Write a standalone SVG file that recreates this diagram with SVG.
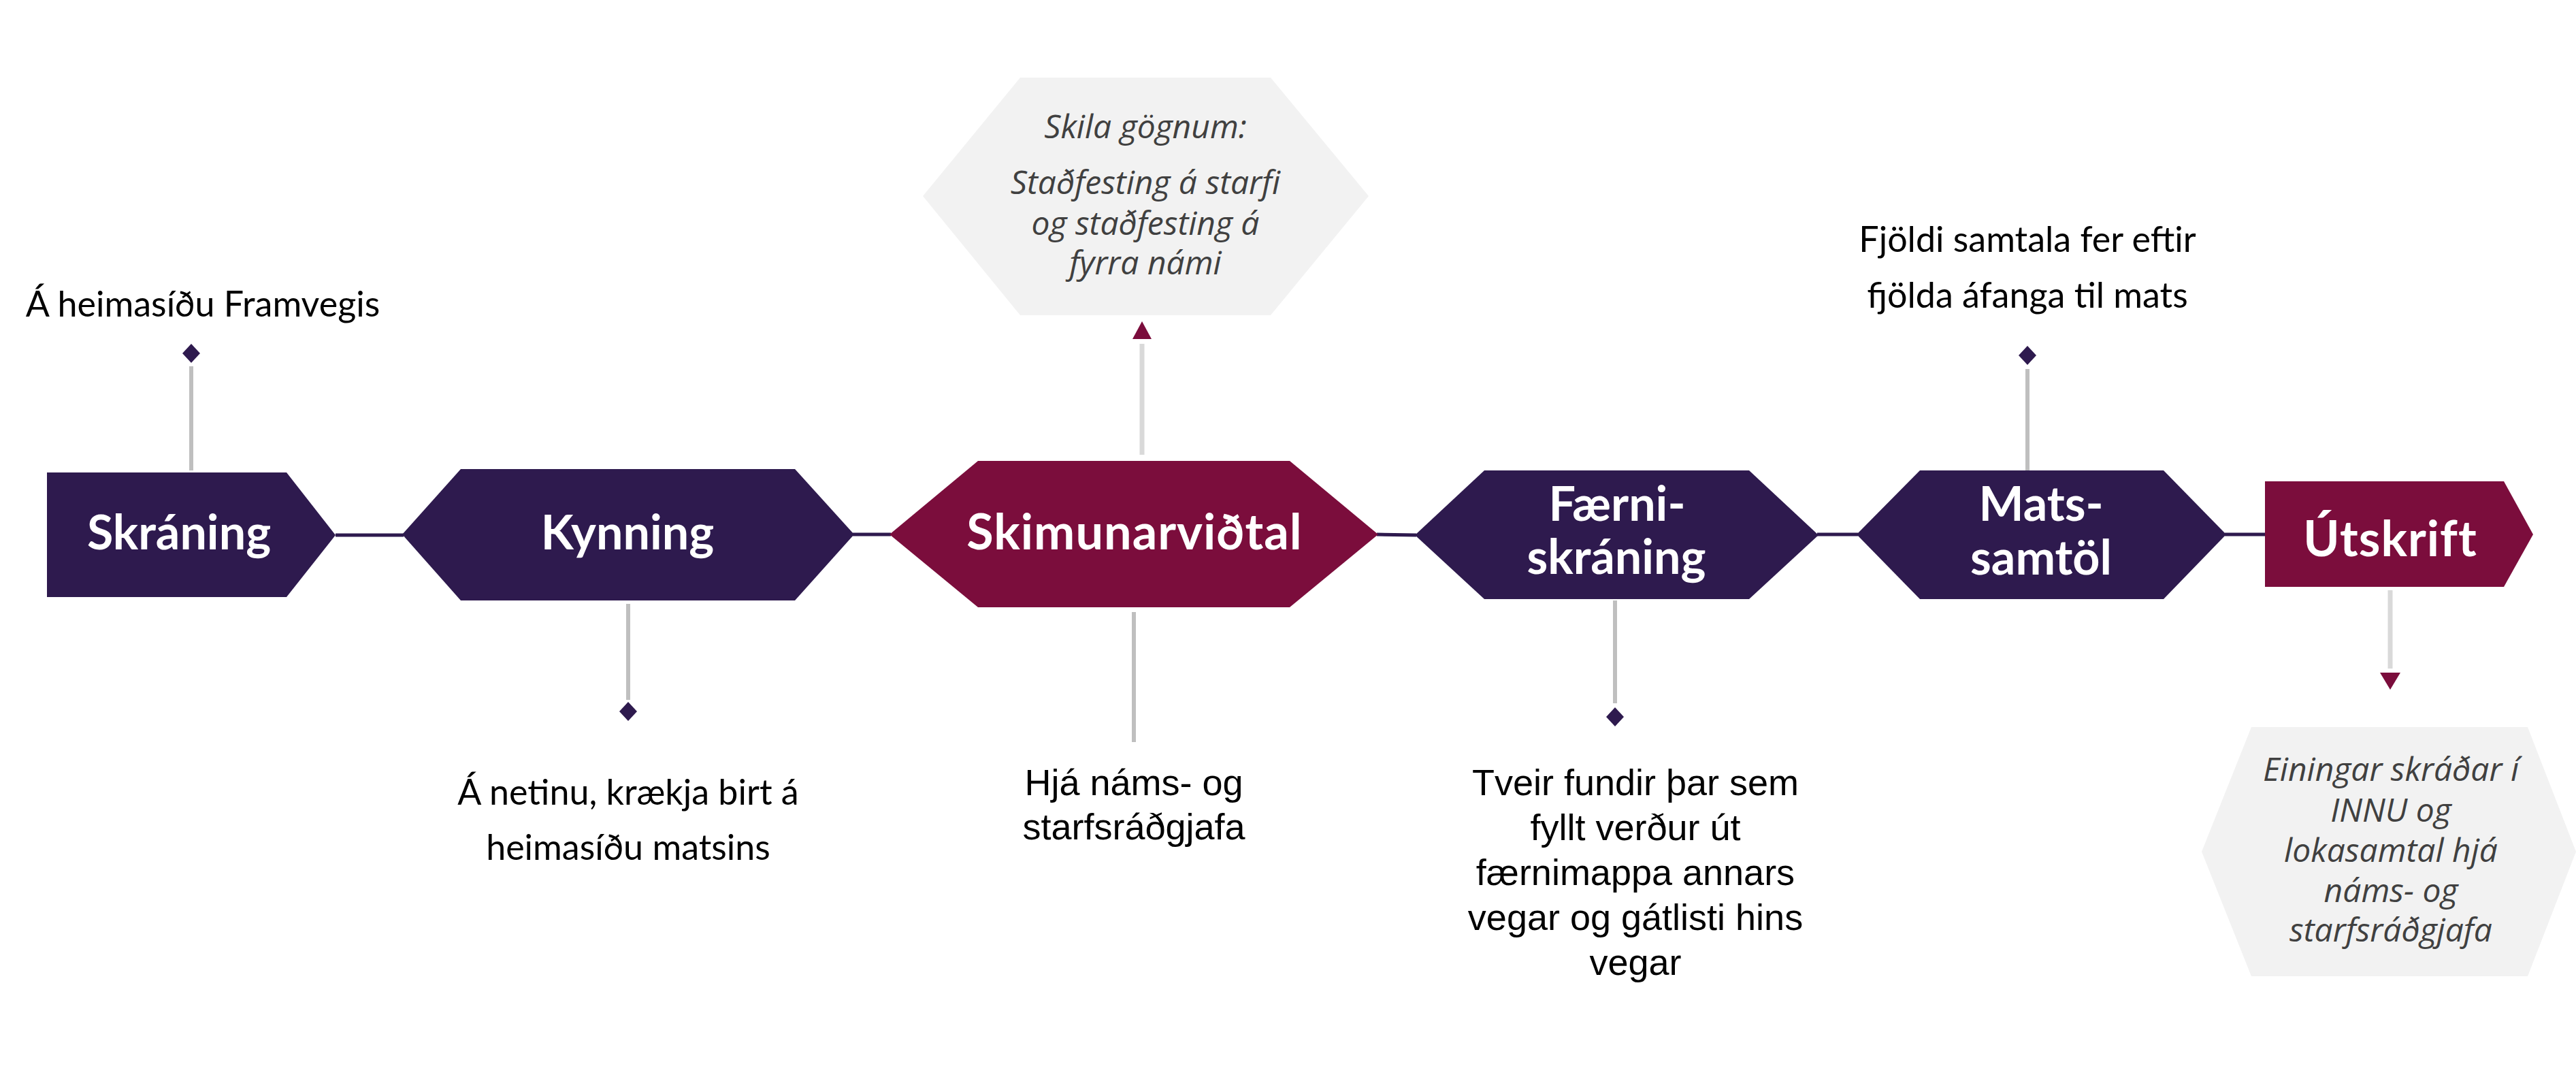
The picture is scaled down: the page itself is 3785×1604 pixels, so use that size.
<svg xmlns="http://www.w3.org/2000/svg" width="3785" height="1604" viewBox="0 0 3785 1604">
<style>
.purple{fill:#2e1a4e}
.maroon{fill:#7b0d3c}
.box{fill:#f2f2f2}
.lbl{font-family:Lato,"Liberation Sans",sans-serif;font-weight:bold;font-size:70px;fill:#ffffff;text-anchor:middle}
.lbl2{font-family:Lato,"Liberation Sans",sans-serif;font-weight:bold;font-size:72px;fill:#ffffff;text-anchor:middle;letter-spacing:1px}
.cal{font-family:Lato,"Open Sans",sans-serif;font-size:52px;fill:#000000;text-anchor:middle}
.ari{font-family:"Liberation Sans",Arial,sans-serif;font-size:54px;fill:#000000;text-anchor:middle}
.ita{font-family:"Open Sans","Noto Sans",sans-serif;font-style:italic;font-size:48px;fill:#404040;text-anchor:middle}
.flow{stroke:#2e1a4e;stroke-width:5;fill:none}
.stem{stroke:#bfbfbf;stroke-width:6;fill:none}
.stem2{stroke:#d9d9d9;stroke-width:7;fill:none}
.dia{fill:#2e1a4e}
.tri{fill:#7b0d3c}
</style>
<rect width="3785" height="1604" fill="#ffffff"/>
<g id="connectors">
<line class="flow" x1="493" y1="786" x2="593" y2="786"/>
<line class="flow" x1="1253" y1="785" x2="1309" y2="785"/>
<line class="flow" x1="2023" y1="785" x2="2081" y2="786"/>
<line class="flow" x1="2670" y1="785" x2="2730" y2="785"/>
<line class="flow" x1="3269" y1="785" x2="3330" y2="785"/>
<line class="stem" x1="281" y1="538" x2="281" y2="691"/>
<polygon class="dia" points="281,505 294,519 281,533 268,519"/>
<line class="stem" x1="923" y1="887" x2="923" y2="1028"/>
<polygon class="dia" points="923,1031 936,1045 923,1059 910,1045"/>
<line class="stem" x1="1666" y1="899" x2="1666" y2="1090"/>
<line class="stem2" x1="1678" y1="505" x2="1678" y2="668"/>
<polygon class="tri" points="1678,472 1692,498 1664,498"/>
<line class="stem" x1="2373" y1="882" x2="2373" y2="1033"/>
<polygon class="dia" points="2373,1039 2386,1053 2373,1067 2360,1053"/>
<line class="stem" x1="2979" y1="542" x2="2979" y2="691"/>
<polygon class="dia" points="2979,508 2992,522 2979,536 2966,522"/>
<line class="stem2" x1="3512" y1="867" x2="3512" y2="982"/>
<polygon class="tri" points="3497,988 3527,988 3512,1013"/>
</g>
<g id="skraning">
<polygon class="purple" points="69,694 421,694 493,786 421,877 69,877"/>
<text class="lbl" x="263" y="807">Skráning</text>
</g>
<g id="kynning">
<polygon class="purple" points="591,785 677,689 1168,689 1255,785 1168,882 677,882"/>
<text class="lbl" x="922" y="807">Kynning</text>
</g>
<g id="skimunarvidtal">
<polygon class="maroon" points="1307,785 1437,677 1895,677 2025,785 1895,892 1437,892"/>
<text class="lbl2" x="1667" y="807">Skimunarviðtal</text>
</g>
<g id="faerniskraning">
<polygon class="purple" points="2079,786 2181,691 2570,691 2672,786 2570,880 2181,880"/>
<text class="lbl" x="2376" y="765">Færni-</text>
<text class="lbl" x="2375" y="843">skráning</text>
</g>
<g id="matssamtol">
<polygon class="purple" points="2728,785 2821,691 3179,691 3271,785 3179,880 2821,880"/>
<text class="lbl" x="2999" y="765">Mats-</text>
<text class="lbl" x="2999" y="844">samtöl</text>
</g>
<g id="utskrift">
<polygon class="maroon" points="3328,707 3679,707 3722,785 3679,862 3328,862"/>
<text class="lbl2" x="3512" y="817">Útskrift</text>
</g>
<g id="note-skraning">
<text class="cal" x="298" y="465">Á heimasíðu Framvegis</text>
</g>
<g id="note-kynning">
<text class="cal" x="923" y="1182">Á netinu, krækja birt á</text>
<text class="cal" x="923" y="1263">heimasíðu matsins</text>
</g>
<g id="note-skila">
<polygon class="box" points="1356,288 1499,114 1867,114 2011,288 1867,463 1499,463"/>
<text class="ita" x="1683" y="203">Skila gögnum:</text>
<text class="ita" x="1683" y="285">Staðfesting á starfi</text>
<text class="ita" x="1683" y="345">og staðfesting á</text>
<text class="ita" x="1683" y="403">fyrra námi</text>
</g>
<g id="note-skimun">
<text class="ari" x="1666" y="1168">Hjá náms- og</text>
<text class="ari" x="1666" y="1233">starfsráðgjafa</text>
</g>
<g id="note-faerni">
<text class="ari" x="2403" y="1168">Tveir fundir þar sem</text>
<text class="ari" x="2403" y="1234">fyllt verður út</text>
<text class="ari" x="2403" y="1300">færnimappa annars</text>
<text class="ari" x="2403" y="1366">vegar og gátlisti hins</text>
<text class="ari" x="2403" y="1432">vegar</text>
</g>
<g id="note-mats">
<text class="cal" x="2979" y="370">Fjöldi samtala fer eftir</text>
<text class="cal" x="2979" y="452">fjölda áfanga til mats</text>
</g>
<g id="note-utskrift">
<polygon class="box" points="3235,1251 3308,1068 3714,1068 3785,1251 3714,1434 3308,1434"/>
<text class="ita" x="3513" y="1147">Einingar skráðar í</text>
<text class="ita" x="3513" y="1207">INNU og</text>
<text class="ita" x="3513" y="1266">lokasamtal hjá</text>
<text class="ita" x="3513" y="1325">náms- og</text>
<text class="ita" x="3513" y="1383">starfsráðgjafa</text>
</g>
</svg>
